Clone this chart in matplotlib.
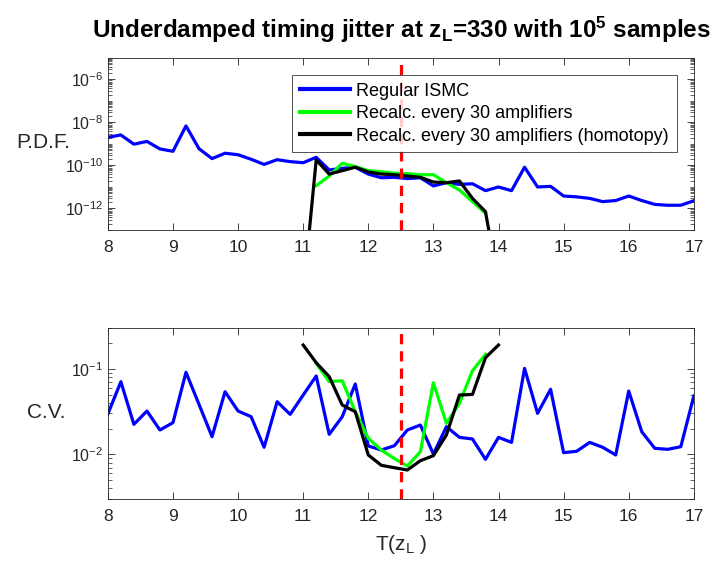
import numpy as np
import matplotlib
matplotlib.use('Agg')
import matplotlib.pyplot as plt
from matplotlib.ticker import FixedLocator, LogLocator, NullFormatter, LogFormatterSciNotation

plt.rcParams['font.family'] = ['Liberation Sans', 'DejaVu Sans']
plt.rcParams['mathtext.fontset'] = 'custom'
plt.rcParams['mathtext.rm'] = 'Liberation Sans'
plt.rcParams['mathtext.it'] = 'Liberation Sans'
plt.rcParams['mathtext.bf'] = 'Liberation Sans:bold'
plt.rcParams['mathtext.default'] = 'regular'

# ---------------- data ----------------
t = [8.0, 8.2, 8.4, 8.6, 8.8, 9.0, 9.2, 9.4, 9.6, 9.8,
     10.0, 10.2, 10.4, 10.6, 10.8, 11.0, 11.2, 11.4, 11.6, 11.8,
     12.0, 12.2, 12.4, 12.6, 12.8, 13.0, 13.2, 13.4, 13.6, 13.8,
     14.0, 14.2, 14.4, 14.6, 14.8, 15.0, 15.2, 15.4, 15.6, 15.8,
     16.0, 16.2, 16.4, 16.6, 16.8, 17.0]

nan = np.nan
# log10 of P.D.F.
pdf_regular_log10 = [-8.69, -8.58, -9.01, -8.88, -9.23, -9.34, -8.16, -9.22, -9.68, -9.43,
                     -9.50, -9.71, -9.95, -9.73, -9.82, -9.87, -9.62, -10.21, -10.13, -10.08,
                     -10.40, -10.57, -10.55, -10.61, -10.57, -10.95, -10.80, -10.88, -10.85, -11.17,
                     -11.00, -11.17, -10.08, -11.00, -10.97, -11.42, -11.46, -11.53, -11.68, -11.63,
                     -11.42, -11.63, -11.81, -11.85, -11.85, -11.64]
pdf_recalc_log10 = [nan] * 16 + [-10.94, -10.49, -9.90, -10.05,
                                 -10.24, -10.29, -10.36, -10.38, -10.43, -10.43, -10.80, -11.14, -11.68, -12.22] + [nan] * 16
pdf_homotopy_log10 = [nan] * 15 + [-16.0, -9.74, -10.40, -10.24, -10.08,
                                  -10.30, -10.40, -10.43, -10.49, -10.55, -10.77, -10.80, -10.72, -11.53, -12.15,
                                  -15.5] + [nan] * 15

# log10 of C.V.
cv_regular_log10 = [-1.529, -1.151, -1.650, -1.494, -1.716, -1.630, -1.041, -1.416, -1.794, -1.268,
                    -1.494, -1.560, -1.918, -1.385, -1.533, -1.307, -1.084, -1.767, -1.560, -1.178,
                    -1.903, -1.950, -1.900, -1.716, -1.658, -1.997, -1.677, -1.802, -1.821, -2.059,
                    -1.802, -1.861, -0.995, -1.521, -1.240, -1.981, -1.965, -1.861, -1.918, -2.008,
                    -1.260, -1.736, -1.930, -1.942, -1.911, -1.318]
cv_recalc_log10 = [nan] * 16 + [-0.936, -1.151, -1.140, -1.502,
                                -1.813, -1.950, -2.050, -2.137, -1.970, -1.163, -1.638, -1.404, -1.022, -0.831] + [nan] * 16
cv_homotopy_log10 = [nan] * 15 + [-0.722, -0.929, -1.092, -1.424, -1.502,
                                 -2.008, -2.129, -2.157, -2.184, -2.075, -2.016, -1.774, -1.307, -1.300, -0.870,
                                 -0.722] + [nan] * 15

z_mark = 12.5
legend_labels = ['Regular ISMC', 'Recalc. every 30 amplifiers',
                 'Recalc. every 30 amplifiers (homotopy)']
x_ticks = [8, 9, 10, 11, 12, 13, 14, 15, 16, 17]

# ---------------- plot ----------------
axcol = '#262626'
fig = plt.figure(figsize=(7.19, 5.63), dpi=100)
ax1 = fig.add_axes([0.150, 0.5915, 0.815, 0.3055])
ax2 = fig.add_axes([0.150, 0.1137, 0.815, 0.3037])

tt = np.array(t)
lw = 2.3
for ax, reg, rec, hom in [(ax1, pdf_regular_log10, pdf_recalc_log10, pdf_homotopy_log10),
                          (ax2, cv_regular_log10, cv_recalc_log10, cv_homotopy_log10)]:
    ax.plot(tt, 10 ** np.array(reg), color='#0000ff', lw=lw, label=legend_labels[0])
    ax.plot(tt, 10 ** np.array(rec), color='#00ff00', lw=lw, label=legend_labels[1])
    ax.plot(tt, 10 ** np.array(hom), color='#000000', lw=lw, label=legend_labels[2])
    ax.axvline(z_mark, color='#ff0000', lw=2.3, ls=(0, (3.2, 2.2)))
    ax.set_yscale('log')
    ax.set_xlim(8, 17)
    ax.xaxis.set_major_locator(FixedLocator(x_ticks))
    ax.tick_params(which='both', direction='in', top=True, right=True,
                   colors=axcol, labelcolor=axcol)
    ax.tick_params(axis='y', labelsize=11.5)
    ax.tick_params(axis='x', labelsize=12.5, pad=7)
    ax.tick_params(which='major', length=5, width=0.6)
    ax.tick_params(which='minor', length=2.8, width=0.5)
    for s in ax.spines.values():
        s.set_color(axcol)
        s.set_linewidth(0.6)

ax1.set_ylim(1e-13, 1e-5)
ax1.yaxis.set_major_locator(FixedLocator([1e-12, 1e-10, 1e-8, 1e-6]))
ax1.yaxis.set_major_formatter(LogFormatterSciNotation())
ax1.yaxis.set_minor_locator(LogLocator(base=10, subs=np.arange(1, 10), numticks=40))
ax1.yaxis.set_minor_formatter(NullFormatter())

ax2.set_ylim(0.003, 0.3)
ax2.yaxis.set_major_locator(FixedLocator([1e-2, 1e-1]))
ax2.yaxis.set_major_formatter(LogFormatterSciNotation())
ax2.yaxis.set_minor_locator(LogLocator(base=10, subs=np.arange(2, 10), numticks=20))
ax2.yaxis.set_minor_formatter(NullFormatter())

leg = ax1.legend(loc='upper right', fontsize=13, frameon=True, fancybox=False,
                 edgecolor=axcol, handlelength=2.8, borderaxespad=0.95,
                 labelspacing=0.3, borderpad=0.42, handletextpad=0.35)
leg.get_frame().set_linewidth(0.7)
for h in leg.get_lines():
    h.set_linewidth(3)

fig.text(0.558, 1 - 30 / 563, r'Underdamped timing jitter at z$_{\mathbf{L}}$=330 with 10$^{\mathbf{5}}$ samples',
         ha='center', va='center', fontsize=17.5, fontweight='bold', color='black')
fig.text(0.558, 1 - 545 / 563, r'T(z$_{L}$ )', ha='center', va='center', fontsize=15, color=axcol)
fig.text(0.060, 1 - 142 / 563, 'P.D.F.', ha='center', va='center', fontsize=15, color=axcol)
fig.text(0.064, 1 - 413 / 563, 'C.V.', ha='center', va='center', fontsize=15, color=axcol)

fig.savefig('out.png', dpi=100, facecolor='white')
